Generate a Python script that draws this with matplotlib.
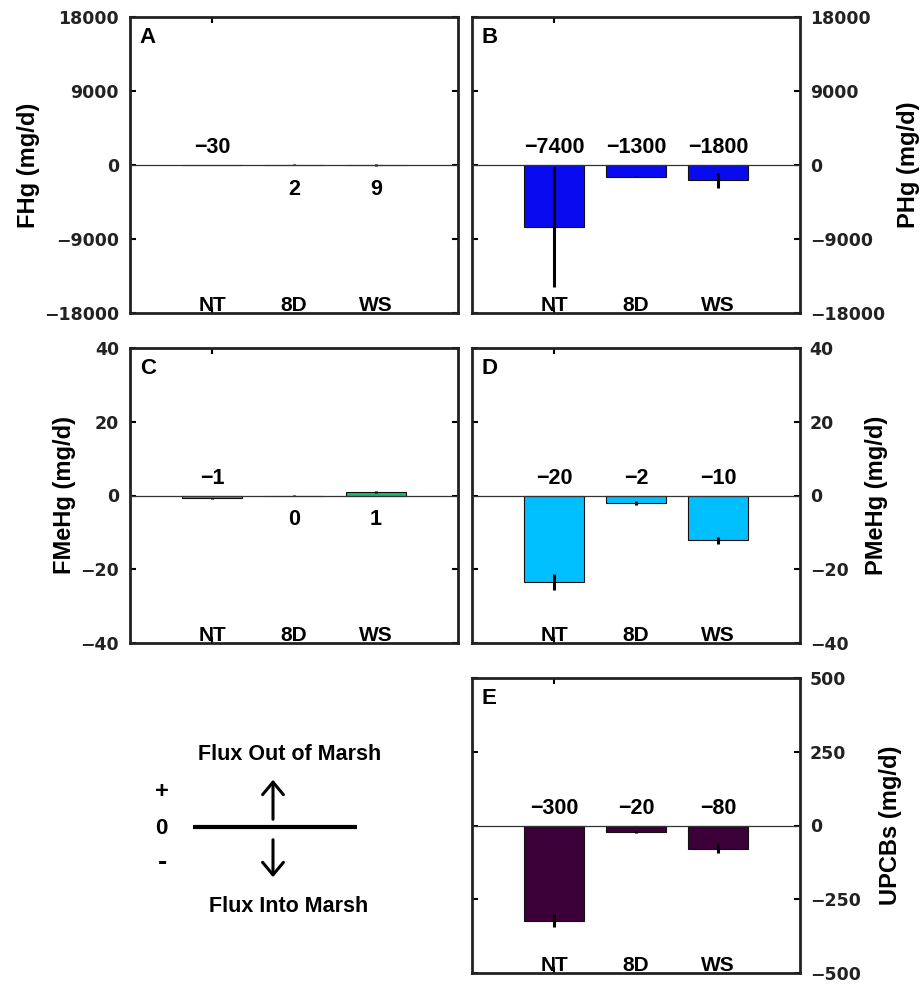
import matplotlib
matplotlib.use("Agg")
import matplotlib.pyplot as plt
from matplotlib.patches import FancyArrowPatch

plt.rcParams['font.family'] = ['Liberation Sans', 'DejaVu Sans']
plt.rcParams['font.weight'] = 'bold'

categories = ['NT', '8D', 'WS']

fhg = [-30, 2, 9]
fhg_err = [30, 60, 100]
fhg_labels = ['\u221230', '2', '9']

phg = [-7500, -1400, -1850]
phg_err = [7300, 120, 900]
phg_labels = ['\u22127400', '\u22121300', '\u22121800']

fmehg = [-0.8, 0.0, 0.9]
fmehg_err = [0.2, 0.1, 0.3]
fmehg_labels = ['\u22121', '0', '1']

pmehg = [-23.5, -2.0, -12.2]
pmehg_err = [2.2, 0.5, 1.0]
pmehg_labels = ['\u221220', '\u22122', '\u221210']

upcbs = [-323, -22, -78]
upcbs_err = [22, 3, 14]
upcbs_labels = ['\u2212300', '\u221220', '\u221280']

W, H = 921, 986
fig = plt.figure(figsize=(W / 100, H / 100), dpi=100)

def rect(l, t, r, b):
    return [l / W, 1 - b / H, (r - l) / W, (b - t) / H]

TICK_FS = 12.5
VAL_FS = 15.5
CAT_FS = 15
LAB_FS = 17
LET_FS = 16
tick_color = '#222222'

def panel(pos, vals, errs, labels, color, ylim, yticks, ylabel, letter, side, label_px):
    l, t, r, b = pos
    ax = fig.add_axes(rect(*pos))
    x = [1, 2, 3]
    ax.bar(x, vals, width=0.72, color=color, edgecolor='#111111', linewidth=0.8, zorder=2)
    ax.errorbar(x, vals, yerr=errs, fmt='none', ecolor='black', elinewidth=2.2, capsize=0, zorder=3)
    ax.axhline(0, color='#333333', linewidth=0.9, zorder=4)
    ax.set_xlim(0, 4)
    ax.set_ylim(*ylim)
    ax.set_yticks(yticks)
    ax.set_yticklabels([('\u2212' + str(abs(t))) if t < 0 else str(t) for t in yticks],
                       fontsize=TICK_FS, fontweight='bold', color=tick_color,
                       family='DejaVu Sans')
    ax.set_xticks([1])
    ax.set_xticklabels([])
    ax.tick_params(axis='both', direction='in', length=4, width=1.5,
                   top=True, right=True, left=True, bottom=True)
    if side == 'right':
        ax.yaxis.tick_right()
        ax.yaxis.set_label_position('right')
        ax.tick_params(axis='y', left=True, right=True, labelleft=False, labelright=True, pad=7)
    else:
        ax.tick_params(axis='y', pad=8)
    ax.set_ylabel(ylabel, fontsize=LAB_FS, fontweight='bold', rotation=90)
    ax.yaxis.set_label_coords((label_px - l) / (r - l), 0.5)
    ax.yaxis.label.set_verticalalignment('center')
    for s in ax.spines.values():
        s.set_linewidth(2.0)
        s.set_color('#222222')
    for xi, v, lab in zip(x, vals, labels):
        if v < 0:
            ax.annotate(lab, (xi, 0), xytext=(0, 5), textcoords='offset points',
                        ha='center', va='bottom', fontsize=VAL_FS, fontweight='bold', zorder=5)
        else:
            ax.annotate(lab, (xi, 0), xytext=(0, -10), textcoords='offset points',
                        ha='center', va='top', fontsize=VAL_FS, fontweight='bold', zorder=5)
    for xi, c in zip(x, categories):
        ax.text(xi, 0.006, c, transform=ax.get_xaxis_transform(), ha='center', va='baseline',
                fontsize=CAT_FS, fontweight='bold', zorder=5)
    ax.text(0.03, 0.965, letter, transform=ax.transAxes, ha='left', va='top',
            fontsize=LET_FS, fontweight='bold')
    return ax

panel((130, 17, 458, 313), fhg, fhg_err, fhg_labels, '#cc3333', (-18000, 18000),
      [-18000, -9000, 0, 9000, 18000], 'FHg (mg/d)', 'A', 'left', 28)
panel((472, 17, 800, 313), phg, phg_err, phg_labels, '#0a0af0', (-18000, 18000),
      [-18000, -9000, 0, 9000, 18000], 'PHg (mg/d)', 'B', 'right', 908)
panel((130, 348, 458, 643), fmehg, fmehg_err, fmehg_labels, '#1db870', (-40, 40),
      [-40, -20, 0, 20, 40], 'FMeHg (mg/d)', 'C', 'left', 64)
panel((472, 348, 800, 643), pmehg, pmehg_err, pmehg_labels, '#00bfff', (-40, 40),
      [-40, -20, 0, 20, 40], 'PMeHg (mg/d)', 'D', 'right', 877)
panel((472, 678, 800, 973), upcbs, upcbs_err, upcbs_labels, '#3b0038', (-500, 500),
      [-500, -250, 0, 250, 500], 'UPCBs (mg/d)', 'E', 'right', 890)

# Legend diagram
lax = fig.add_axes([0, 0, 1, 1], zorder=-1)
lax.set_xlim(0, W)
lax.set_ylim(H, 0)
lax.axis('off')
lax.text(290, 755, 'Flux Out of Marsh', ha='center', va='center', fontsize=15.5, fontweight='bold')
lax.text(289, 907, 'Flux Into Marsh', ha='center', va='center', fontsize=15.5, fontweight='bold')
lax.text(162, 792, '+', ha='center', va='center', fontsize=17, fontweight='bold')
lax.text(161, 828, '0', ha='center', va='center', fontsize=16, fontweight='bold')
lax.text(162, 863, '-', ha='center', va='center', fontsize=20, fontweight='bold')
lax.plot([193, 357], [827, 827], color='black', linewidth=3, solid_capstyle='butt')
lax.add_patch(FancyArrowPatch((273, 822), (273, 777), arrowstyle='->,head_length=6,head_width=5',
                              color='black', linewidth=2.2, mutation_scale=1.5))
lax.add_patch(FancyArrowPatch((273, 837), (273, 880), arrowstyle='->,head_length=6,head_width=5',
                              color='black', linewidth=2.2, mutation_scale=1.5))

fig.savefig('out.png', dpi=100)
